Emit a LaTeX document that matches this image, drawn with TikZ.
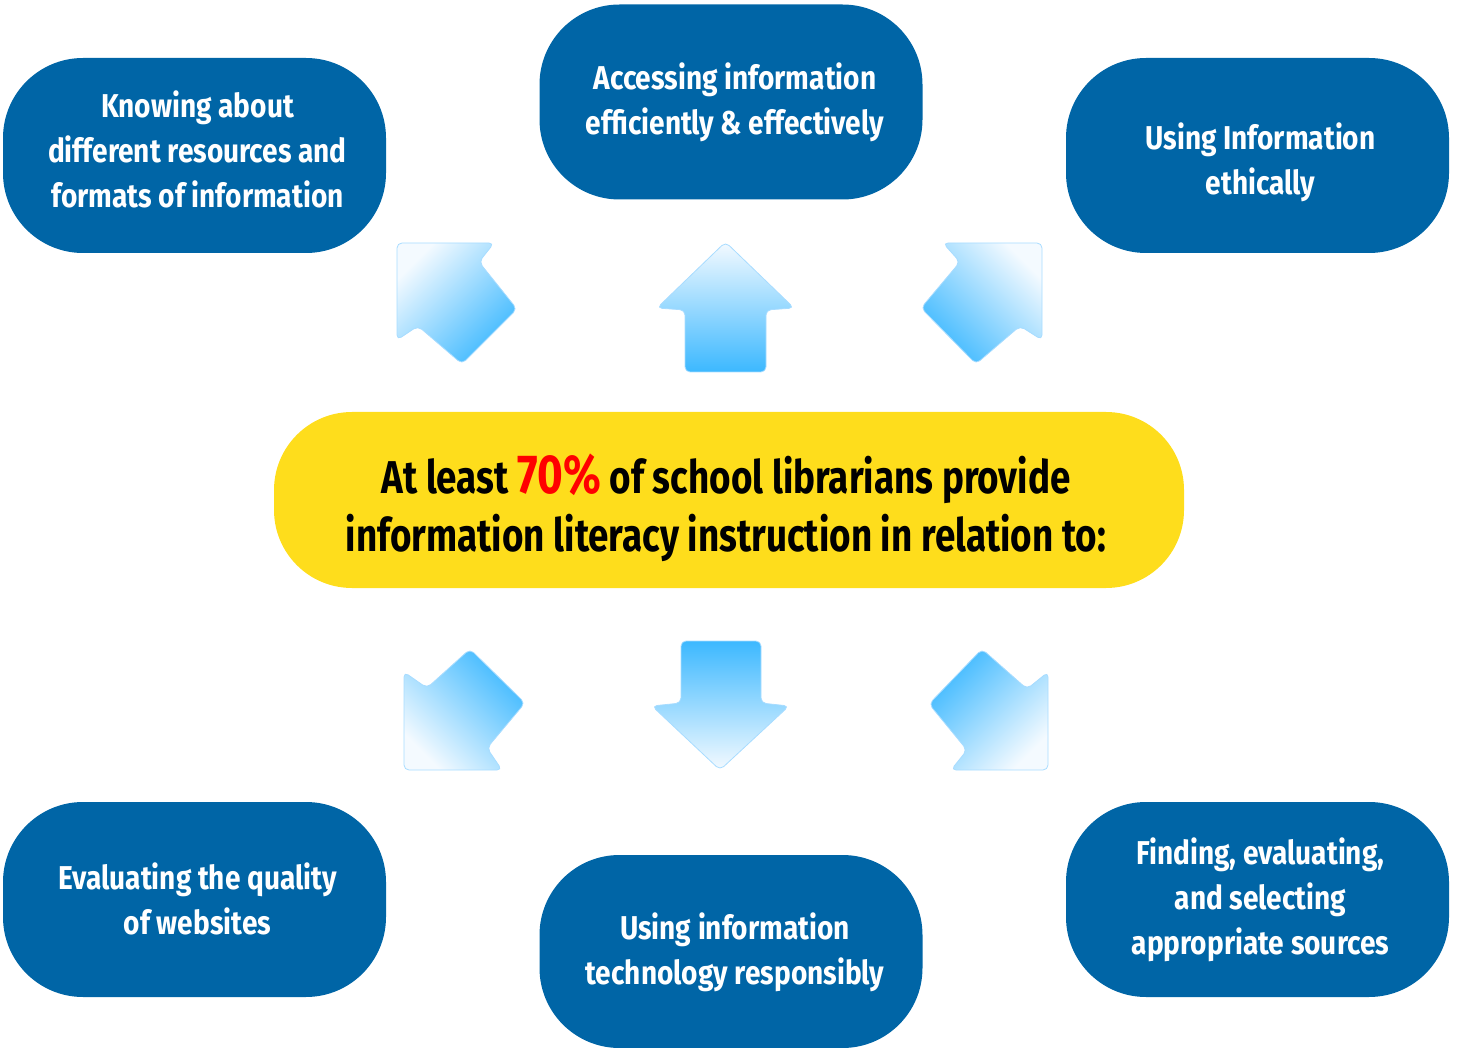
\documentclass[tikz,border=0pt]{standalone}
\usepackage{fontspec}
\setmainfont{Fira Sans}[FakeStretch=0.85]
\newfontfamily\narrowfont{Fira Sans}[FakeStretch=0.80]
\definecolor{boxblue}{HTML}{0065A6}
\definecolor{ylw}{HTML}{FEDD1C}
\definecolor{arrowblue}{HTML}{3CB8FF}
\definecolor{arrowlight}{HTML}{F4FAFF}
\definecolor{arrowedge}{HTML}{A8DCFF}
\definecolor{pctred}{HTML}{FF0000}
\begin{document}
\begin{tikzpicture}[x=1pt,y=-1pt,
  bluebox/.style={fill=boxblue, rounded corners=80pt, minimum width=383pt,
    minimum height=195pt, inner sep=0pt},
  bluetext/.style={text=white, align=center, inner sep=0pt,
    font={\fontsize{33}{45}\selectfont\bfseries}},
  centerbox/.style={fill=ylw, rounded corners=78pt, minimum width=910pt,
    minimum height=176pt, inner sep=0pt},
  centertext/.style={text=black, align=center, inner sep=0pt,
    font={\narrowfont\fontsize{46}{58}\selectfont\bfseries}},
  blockarrow/.style={draw=arrowedge, line width=0.8pt, rounded corners=5pt}
]
\useasboundingbox (0,0) rectangle (1465,1048);

% outer boxes
\node[bluebox] (know) at (194.5,155.5) {};
\node[bluebox] (access) at (731,102) {};
\node[bluebox] (ethic) at (1257.5,155.5) {};
\node[bluebox] (evalweb) at (194.5,899.5) {};
\node[bluebox, minimum height=193pt] (tech) at (731,951.5) {};
\node[bluebox] (find) at (1257.5,899.5) {};

\node[bluetext] (knowtxt) at ([xshift=3pt,yshift=6pt]know.center) {Knowing about\\different resources and\\formats of information};
\node[bluetext] (accesstxt) at ([xshift=4pt]access.center) {Accessing information\\efficiently \& effectively};
\node[bluetext] (ethictxt) at ([xshift=3pt,yshift=-7pt]ethic.center) {Using Information\\ethically};
\node[bluetext] (evalwebtxt) at ([xshift=3pt,yshift=1pt]evalweb.center) {Evaluating the quality\\of websites};
\node[bluetext] (techtxt) at ([xshift=4pt,yshift=-1pt]tech.center) {Using information\\technology responsibly};
\node[bluetext] (findtxt) at ([xshift=3pt]find.center) {Finding, evaluating,\\and selecting\\appropriate sources};

% centre
\node[centerbox] (centre) at (729,500) {};
\node[centertext] (centretxt) at ([xshift=-3pt,yshift=-8pt]centre.center) {At least {\fontsize{55}{58}\selectfont\textcolor{pctred}{70\%}} of school librarians provide\\information literacy instruction in relation to:};

% block arrows (upper row: light at tip)
\shadedraw[blockarrow, top color=arrowlight, bottom color=arrowblue, shading angle=45]
  (397,243) -- (494,243) -- (479,262) -- (517,309) -- (462,364) -- (418,326) -- (397,340) -- cycle;
\shadedraw[blockarrow, top color=arrowlight, bottom color=arrowblue, shading angle=0]
  (725.5,242) -- (794,308) -- (766,310) -- (766,372) -- (685,372) -- (685,310) -- (657,308) -- cycle;
\shadedraw[blockarrow, top color=arrowlight, bottom color=arrowblue, shading angle=-45]
  (1042,243) -- (943,243) -- (960,262) -- (921,308) -- (976,364) -- (1020,326) -- (1042,340) -- cycle;

% block arrows (lower row: light at tip)
\shadedraw[blockarrow, top color=arrowblue, bottom color=arrowlight, shading angle=-45]
  (404,672) -- (427,688) -- (470,649) -- (525,703) -- (487,748) -- (502,770) -- (404,770) -- cycle;
\shadedraw[blockarrow, top color=arrowblue, bottom color=arrowlight, shading angle=0]
  (681,641) -- (761,641) -- (761,703) -- (789,706) -- (720,770) -- (652,706) -- (681,703) -- cycle;
\shadedraw[blockarrow, top color=arrowblue, bottom color=arrowlight, shading angle=45]
  (1048,672) -- (1048,770) -- (951,770) -- (967,750) -- (929,704) -- (982,649) -- (1027,689) -- cycle;
\end{tikzpicture}
\end{document}
